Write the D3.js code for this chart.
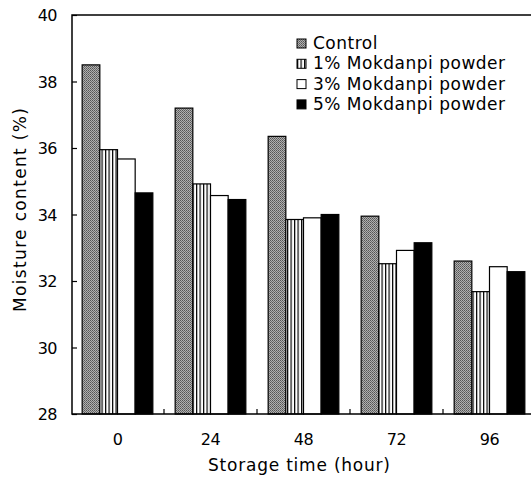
<!DOCTYPE html>
<html>
<head>
<meta charset="utf-8">
<script src="https://cdn.jsdelivr.net/npm/d3@7"></script>
<style>
  body { margin: 0; background: #fff; }
  text { font-family: "DejaVu Sans", "Liberation Sans", sans-serif; fill: #000; }
</style>
</head>
<body>
<svg id="chart" width="531" height="479"></svg>
<script>
const hours = [ '0', '24', '48', '72', '96' ]
const seriesNames = [ 'Control', '1% Mokdanpi powder', '3% Mokdanpi powder', '5% Mokdanpi powder' ]
const control = [ 38.5, 37.2, 36.35, 33.95, 32.6 ]
const mok1 = [ 35.95, 34.92, 33.85, 32.52, 31.68 ]
const mok3 = [ 35.67, 34.57, 33.9, 32.92, 32.43 ]
const mok5 = [ 34.65, 34.45, 34.0, 33.15, 32.28 ]
const yTicks = [ 28, 30, 32, 34, 36, 38, 40 ]

const series = [ control, mok1, mok3, mok5 ]
const fills = [ 'url(#dots)', 'url(#stripes)', '#fff', '#000' ]

const svg = d3.select('#chart')
const plotTop = 15, plotBottom = 414, plotLeft = 72

// patterns
const defs = svg.append('defs')
const dots = defs.append('pattern')
    .attr('id', 'dots').attr('patternUnits', 'userSpaceOnUse')
    .attr('width', 2).attr('height', 2)
dots.append('rect').attr('width', 2).attr('height', 2).attr('fill', '#b0b0b0')
dots.append('rect').attr('width', 1).attr('height', 1).attr('fill', '#555')
dots.append('rect').attr('x', 1).attr('y', 1).attr('width', 1).attr('height', 1).attr('fill', '#6c6c6c')

const stripes = defs.append('pattern')
    .attr('id', 'stripes').attr('patternUnits', 'userSpaceOnUse')
    .attr('width', 3.5).attr('height', 10)
stripes.append('rect').attr('width', 3.5).attr('height', 10).attr('fill', '#fff')
stripes.append('rect').attr('width', 1.2).attr('height', 10).attr('fill', '#000')

const x = d3.scaleBand()
    .domain( hours )
    .range( [ 71, 71 + 93 * hours.length ] )
    .paddingInner( 0.24 )
    .paddingOuter( 0.12 )

const xs = d3.scaleBand()
    .domain( d3.range( series.length ) )
    .range( [ 0, x.bandwidth() ] )

const y = d3.scaleLinear()
    .domain( [ 28, 40 ] )
    .range( [ plotBottom, plotTop ] )

// bars
series.forEach( ( vals, s ) => {
    svg.append('g')
        .selectAll('rect')
        .data( vals )
        .join('rect')
        .attr('x', ( d, i ) => x( hours[i] ) + xs( s ) )
        .attr('y', d => y( d ) )
        .attr('width', xs.bandwidth() )
        .attr('height', d => plotBottom - y( d ) )
        .attr('fill', fills[s] )
        .attr('stroke', '#000')
        .attr('stroke-width', 1.2)
} )

// frame
svg.append('path')
    .attr('d', `M560,${ plotTop }H${ plotLeft }V${ plotBottom }H560`)
    .attr('fill', 'none')
    .attr('stroke', '#000')
    .attr('stroke-width', 1.5)

// y axis (ticks inward)
const yAxis = svg.append('g')
    .attr('transform', `translate(${ plotLeft },0)`)
    .call( d3.axisRight( y ).tickValues( yTicks ).tickSize( 5 ).tickFormat( '' ) )
yAxis.select('.domain').remove()
yAxis.selectAll('line').attr('stroke-width', 1.2)

svg.append('g')
    .selectAll('text')
    .data( yTicks )
    .join('text')
    .attr('x', 57)
    .attr('y', d => y( d ) + 6)
    .attr('text-anchor', 'end')
    .attr('letter-spacing', -0.5)
    .style('font-size', '16px')
    .text( d => d )

// x ticks at group boundaries, pointing up
const bounds = hours.slice( 1 ).map( h => x( h ) - x.step() * x.paddingInner() / 2 )
svg.append('g')
    .selectAll('line')
    .data( bounds )
    .join('line')
    .attr('x1', d => d).attr('x2', d => d)
    .attr('y1', plotBottom).attr('y2', plotBottom - 5)
    .attr('stroke', '#000')
    .attr('stroke-width', 1.2)

svg.append('g')
    .selectAll('text')
    .data( hours )
    .join('text')
    .attr('x', d => x( d ) + x.bandwidth() / 2 )
    .attr('y', 445)
    .attr('text-anchor', 'middle')
    .attr('letter-spacing', -0.5)
    .style('font-size', '16px')
    .text( d => d )

svg.append('text')
    .attr('x', 299)
    .attr('y', 471)
    .attr('text-anchor', 'middle')
    .attr('textLength', 182)
    .style('font-size', '17px')
    .text('Storage time (hour)')

svg.append('text')
    .attr('transform', 'translate(26,210) rotate(-90)')
    .attr('text-anchor', 'middle')
    .attr('textLength', 204)
    .style('font-size', '17px')
    .text('Moisture content (%)')

// legend
const legend = svg.append('g')
    .selectAll('g')
    .data( seriesNames )
    .join('g')
    .attr('transform', ( d, i ) => `translate(297,${ 39 + i * 20.3 })`)
legend.append('rect')
    .attr('width', 9).attr('height', 9)
    .attr('fill', ( d, i ) => fills[i] )
    .attr('stroke', '#000')
    .attr('stroke-width', 1)
legend.append('text')
    .attr('x', 16)
    .attr('y', 10)
    .attr('letter-spacing', 0.5)
    .style('font-size', '17px')
    .text( d => d )
</script>
</body>
</html>
